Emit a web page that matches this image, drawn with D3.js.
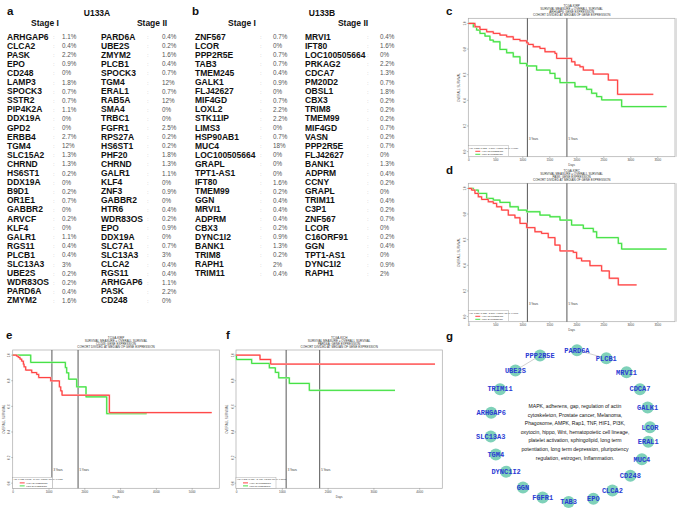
<!DOCTYPE html>
<html>
<head>
<meta charset="utf-8">
<script src="https://cdn.jsdelivr.net/npm/d3@7"></script>
<style>
  body { margin: 0; background: #fff; }
  text { font-family: "Liberation Sans", Arial, sans-serif; }
</style>
</head>
<body>
<div id="chart"></div>
<script>
// ---- panel a / b : gene tables ----
var aStage1Genes = ["ARHGAP6","CLCA2","PASK","EPO","CD248","LAMP3","SPOCK3","SSTR2","PIP4K2A","DDX19A",
  "GPD2","ERBB4","TGM4","SLC15A2","CHRND","HS6ST1","DDX19A","B9D1","OR1E1","GABBR2",
  "ARVCF","KLF4","GALR1","RGS11","PLCB1","SLC13A3","UBE2S","WDR83OS","PARD6A","ZMYM2"];
var aStage1Pct = [1.1,0.4,2.2,0.9,0,1.8,0.7,0.7,1.1,0, 0,2.7,12,1.3,1.3,0.2,0,0.2,0.7,0, 0.2,0,1.1,0.4,0.4,3,0.2,0.2,0.4,1.6];
var aStage2Genes = ["PARD6A","UBE2S","ZMYM2","PLCB1","SPOCK3","TGM4","ERAL1","RAB5A","SMA4","TRBC1",
  "FGFR1","RPS27A","HS6ST1","PHF20","CHRND","GALR1","KLF4","ZNF3","GABBR2","HTR6",
  "WDR83OS","EPO","DDX19A","SLC7A1","SLC13A3","CLCA2","RGS11","ARHGAP6","PASK","CD248"];
var aStage2Pct = [0.4,0.2,1.6,0.4,0.7,12,0.7,12,0,0, 2.5,0.2,0.2,1.8,1.3,1.1,0,0.9,0,0.4, 0.2,0.9,0,0.7,3,0.4,0.4,1.1,2.2,0];

var bStage1Genes = ["ZNF567","LCOR","PPP2R5E","TAB3","TMEM245","GALK1","FLJ42627","MIF4GD","LOXL2","STK11IP",
  "LIMS3","HSP90AB1","MUC4","LOC100505664","GRAPL","TPT1-AS1","IFT80","TMEM99","GGN","MRVI1",
  "ADPRM","CBX3","DYNC1I2","BANK1","TRIM8","RAPH1","TRIM11"];
var bStage1Pct = [0.7,0,0.7,0.7,0.4,0.9,0,0.7,2.2,2.2, 0,0.7,18,0,0,0,1.6,0.2,0.4,0.4, 0.4,0.2,0.9,1.3,0.2,2,0.4];
var bStage2Genes = ["MRVI1","IFT80","LOC100505664","PRKAG2","CDCA7","PM20D2","OBSL1","CBX3","TRIM8","TMEM99",
  "MIF4GD","VASN","PPP2R5E","FLJ42627","BANK1","ADPRM","CCNY","GRAPL","TRIM11","C3P1",
  "ZNF567","LCOR","C16ORF91","GGN","TPT1-AS1","DYNC1I2","RAPH1"];
var bStage2Pct = [0.4,1.6,0,2.2,1.3,0.7,1.8,0.2,0.2,0.2, 0.7,0.2,0.7,0,1.3,0.4,0.2,0,0.4,0.2, 0.7,0,0.2,0.4,0,0.9,2];

// ---- panels c-f : Kaplan-Meier curves, [days, survival] step knots (last = end of follow-up) ----
var cHigh = [[0,1],[123,0.974],[216,0.953],[340,0.935],[463,0.922],[586,0.909],[710,0.896],[833,0.875],
  [957,0.865],[1080,0.849],[1110,0.836],[1203,0.818],[1327,0.805],[1420,0.779],[1605,0.766],[1636,0.727],
  [1913,0.701],[1975,0.675],[2067,0.662],[2130,0.636],[2315,0.605],[2593,0.558],[2765,0.447],[3426,0.447]];
var cLow = [[0,1],[93,0.974],[154,0.948],[216,0.922],[309,0.901],[401,0.87],[463,0.857],[586,0.797],
  [710,0.771],[833,0.74],[957,0.688],[1080,0.668],[1265,0.636],[1512,0.61],[1605,0.571],[1698,0.538],
  [1975,0.506],[2191,0.486],[2284,0.455],[2377,0.429],[2470,0.403],[2840,0.351],[3673,0.351]];
var dHigh = [[0,1],[62,0.987],[123,0.961],[185,0.935],[247,0.914],[370,0.896],[463,0.883],[525,0.857],
  [617,0.831],[741,0.792],[864,0.771],[957,0.727],[1080,0.694],[1234,0.662],[1357,0.649],[1481,0.616],
  [1605,0.558],[1698,0.512],[1944,0.501],[2006,0.455],[2098,0.434],[2253,0.397],[2469,0.356],[2611,0.299],
  [2778,0.247],[3117,0.247]];
var dLow = [[0,1],[93,0.987],[185,0.961],[340,0.922],[463,0.909],[586,0.891],[772,0.857],[926,0.831],
  [1080,0.818],[1327,0.792],[1512,0.779],[1698,0.753],[1913,0.714],[2130,0.688],[2315,0.662],[2377,0.616],
  [2778,0.571],[2840,0.527],[3673,0.527]];
var eHigh = [[0,1],[112,0.992],[158,0.982],[205,0.969],[251,0.953],[298,0.93],[317,0.909],[363,0.883],
  [531,0.864],[670,0.849],[726,0.825],[1061,0.799],[1304,0.752],[1341,0.721],[1378,0.687],[2700,0.551],[5559,0.551]];
var eLow = [[0,1],[503,0.943],[1471,0.903],[1508,0.862],[1564,0.812],[1788,0.752],[2048,0.674],[2626,0.543],[3743,0.543]];
var fHigh = [[0,1],[524,0.966],[757,0.93],[4345,0.93]];
var fLow = [[0,1],[10,0.966],[342,0.935],[728,0.901],[859,0.865],[932,0.823],[1164,0.779],[1601,0.725],[3472,0.725]];

// ---- panel g : network ----
var gNodes = ["PARD6A","PLCB1","MRVI1","CDCA7","GALK1","LCOR","ERAL1","MUC4","CD248","CLCA2","EPO",
  "TAB3","FGFR1","GGN","DYNC1I2","TGM4","SLC13A3","ARHGAP6","TRIM11","UBE2S","PPP2R5E"];
var gNodeAngle = [5,27,45,61,76,91,102,116,131,148,163,181,200,216,233,248,262,280,299,317,338];
var gEdges = [["PPP2R5E","UBE2S"],["PARD6A","PLCB1"]];
var gPathways = ["MAPK, adherens, gap, regulation of actin",
  "cytoskeleton, Prostate cancer, Melanoma,",
  "Phagosome, AMPK, Rap1, TNF, HIF1, PI3K,",
  "oxytocin, hippo, Wnt, hematopoietic cell lineage,",
  "platelet activation, sphingolipid, long term",
  "potentiation, long term depression, pluripotency",
  "regulation, estrogen, Inflammation."];

var svg = d3.select("#chart").append("svg")
  .attr("width", 685).attr("height", 516);

// panel letters
[["a",7,15],["b",192,15],["c",446,15],["d",446,174],["e",6,339],["f",226,339],["g",446,340]]
  .forEach(function(p) {
    svg.append("text").attr("x", p[1]).attr("y", p[2]).text(p[0])
      .style("font-size", "11.5px").style("font-weight", "bold").style("fill", "#111");
  });

// ---------- tables ----------
var row = d3.scaleLinear().domain([0, 1]).range([39.5, 48.6]);

function drawColumn(genes, pct, gx, sx, px) {
  var g = svg.append("g");
  g.selectAll(".gene").data(genes).enter().append("text")
    .attr("x", gx).attr("y", function(d, i) { return row(i); })
    .text(function(d) { return d; })
    .style("font-size", "8.5px").style("font-weight", "bold").style("fill", "#111");
  g.selectAll(".sep").data(genes).enter().append("text")
    .attr("x", sx).attr("y", function(d, i) { return row(i) - 0.5; })
    .text(":")
    .style("font-size", "6px").style("fill", "#bbb");
  g.selectAll(".pct").data(pct).enter().append("text")
    .attr("x", px).attr("y", function(d, i) { return row(i) - 0.5; })
    .text(function(d) { return d + "%"; })
    .style("font-size", "6.3px").style("fill", "#555");
}

function header(txt, x, y) {
  svg.append("text").attr("x", x).attr("y", y).attr("text-anchor", "middle").text(txt)
    .style("font-size", "8.5px").style("font-weight", "bold").style("fill", "#111");
}

header("U133A", 97, 15.5); header("Stage I", 45, 25.5); header("Stage II", 152, 25.5);
drawColumn(aStage1Genes, aStage1Pct, 7, 53, 62);
drawColumn(aStage2Genes, aStage2Pct, 101, 147, 162);

header("U133B", 322, 15.5); header("Stage I", 242, 25.5); header("Stage II", 353, 25.5);
drawColumn(bStage1Genes, bStage1Pct, 195, 260, 273);
drawColumn(bStage2Genes, bStage2Pct, 305, 367, 380);

// ---------- KM plots ----------
function kmPanel(o) {
  var g = svg.append("g");
  var x = d3.scaleLinear().domain([0, o.dayRight]).range([o.left, o.right]);
  var y = d3.scaleLinear().domain([-0.04, 1.04]).range([o.bottom, o.top]);
  var cx = (o.left + o.right) / 2;

  // title
  var titles = [o.cohort, "SURVIVAL MEASURE = OVERALL SURVIVAL", o.gene + ": GENE EXPRESSION",
    "COHORT DIVIDED AT MEDIAN OF GENE EXPRESSION"];
  titles.forEach(function(t, i) {
    g.append("text").attr("x", cx).attr("y", o.top - 11.5 + i * 3.1)
      .attr("text-anchor", "middle").text(t)
      .style("font-size", "3px").style("fill", "#333");
  });

  // frame
  g.append("rect").attr("x", o.left).attr("y", o.top)
    .attr("width", o.right - o.left).attr("height", o.bottom - o.top)
    .style("fill", "none").style("stroke", "#aaa").style("stroke-width", 0.7);
  if (o.thickRight) {
    g.append("line").attr("x1", o.right + 1).attr("x2", o.right + 1)
      .attr("y1", o.top).attr("y2", o.bottom)
      .style("stroke", "#ddd").style("stroke-width", 2);
  }

  // axes
  var xa = g.append("g").attr("transform", "translate(0," + o.bottom + ")")
    .call(d3.axisBottom(x).tickValues(d3.range(0, o.dayRight, o.tickStep))
      .tickSize(1.5).tickPadding(1).tickFormat(d3.format("d")));
  xa.select(".domain").remove();
  xa.selectAll("line").style("stroke", "#666").style("stroke-width", 0.4);
  xa.selectAll("text").style("font-size", "3px").style("fill", "#444")
    .style("font-family", "'Liberation Sans', Arial, sans-serif");

  var yt = [0, 0.2, 0.4, 0.6, 0.8, 1.0];
  g.selectAll(".yt").data(yt).enter().append("line")
    .attr("x1", o.left - 1.5).attr("x2", o.left)
    .attr("y1", function(d) { return y(d); }).attr("y2", function(d) { return y(d); })
    .style("stroke", "#666").style("stroke-width", 0.4);
  g.selectAll(".yl").data(yt).enter().append("text")
    .attr("transform", function(d) { return "translate(" + (o.left - 2.5) + "," + y(d) + ") rotate(-90)"; })
    .attr("text-anchor", "middle").text(function(d) { return d3.format(".1f")(d); })
    .style("font-size", "3px").style("fill", "#444");

  g.append("text").attr("x", cx).attr("y", o.bottom + 9.5).attr("text-anchor", "middle")
    .text("Days").style("font-size", "3px").style("fill", "#444");
  g.append("text")
    .attr("transform", "translate(" + (o.left - 8) + "," + ((o.top + o.bottom) / 2) + ") rotate(-90)")
    .attr("text-anchor", "middle").text("OVERALL SURVIVAL")
    .style("font-size", "3px").style("fill", "#555");

  // 3 / 5 year markers
  [[1095, "3 Years"], [1826, "5 Years"]].forEach(function(m) {
    g.append("line").attr("x1", x(m[0])).attr("x2", x(m[0]))
      .attr("y1", o.top).attr("y2", o.bottom)
      .style("stroke", "#666").style("stroke-width", 1.1);
    g.append("text").attr("x", x(m[0]) + 1.5).attr("y", o.bottom - 17)
      .text(m[1]).style("font-size", "2.8px").style("fill", "#333");
  });

  // curves
  var line = d3.line().x(function(d) { return x(d[0]); }).y(function(d) { return y(d[1]); })
    .curve(d3.curveStepAfter);
  [[o.low, "#a8f5a8", "#33dd33"], [o.high, "#ffb0b0", "#ff3030"]].forEach(function(s) {
    g.append("path").attr("d", line(s[0]))
      .style("fill", "none").style("stroke", s[1]).style("stroke-width", 1.8);
    g.append("path").attr("d", line(s[0]))
      .style("fill", "none").style("stroke", s[2]).style("stroke-width", 0.9);
  });

  // legend
  var lx = o.left, ly = o.bottom - 11;
  g.append("rect").attr("x", lx).attr("y", ly).attr("width", 40).attr("height", 11)
    .style("fill", "#fff").style("stroke", "#999").style("stroke-width", 0.4);
  g.append("text").attr("x", lx + 1).attr("y", ly + 2.8).text(o.hr)
    .style("font-size", "2.3px").style("fill", "#333");
  [["HIGH EXPRESSION", "#ff3030", 5.6], ["LOW EXPRESSION", "#33dd33", 8.6]].forEach(function(l) {
    g.append("line").attr("x1", lx + 7).attr("x2", lx + 12)
      .attr("y1", ly + l[2]).attr("y2", ly + l[2])
      .style("stroke", l[1]).style("stroke-width", 0.9);
    g.append("text").attr("x", lx + 13.5).attr("y", ly + l[2] + 0.8).text(l[0])
      .style("font-size", "2.3px").style("fill", "#333");
  });
}

kmPanel({ left: 468.3, right: 675, top: 18.3, bottom: 156.7, dayRight: 3828, tickStep: 500,
  cohort: "TCGA-KIRP", gene: "ARHGAP6", high: cHigh, low: cLow, thickRight: true,
  hr: "HR: 0.552 (0.352 - 0.866), LOGRANK P: 0.0089" });
kmPanel({ left: 468.3, right: 675, top: 183.3, bottom: 321.7, dayRight: 3828, tickStep: 500,
  cohort: "TCGA-KIRC", gene: "PASK", high: dHigh, low: dLow, thickRight: true,
  hr: "HR: 1.827 (1.335 - 2.501), LOGRANK P: 0.0001" });
kmPanel({ left: 12.7, right: 219.3, top: 350, bottom: 488.3, dayRight: 5771, tickStep: 1000,
  cohort: "TCGA-KIRP", gene: "CD248", high: eHigh, low: eLow,
  hr: "HR: 1.123 (0.512 - 2.466), LOGRANK P: 0.7721" });
kmPanel({ left: 236, right: 442.3, top: 350, bottom: 488.3, dayRight: 4504, tickStep: 1000,
  cohort: "TCGA-KICH", gene: "PARD6A", high: fHigh, low: fLow,
  hr: "HR: 0.272 (0.031 - 2.403), LOGRANK P: 0.2108" });

// ---------- network ----------
var ringX = d3.scaleLinear().domain([-1, 1]).range([490, 650]);
var ringY = d3.scaleLinear().domain([-1, 1]).range([350, 502]);
var pos = {};
gNodes.forEach(function(n, i) {
  var a = gNodeAngle[i] * Math.PI / 180;
  pos[n] = [ringX(Math.sin(a)), ringY(-Math.cos(a))];
});
var net = svg.append("g");
net.selectAll(".edge").data(gEdges).enter().append("line")
  .attr("x1", function(d) { return pos[d[0]][0]; }).attr("y1", function(d) { return pos[d[0]][1]; })
  .attr("x2", function(d) { return pos[d[1]][0]; }).attr("y2", function(d) { return pos[d[1]][1]; })
  .style("stroke", "#bbb").style("stroke-width", 0.7);
net.selectAll(".node").data(gNodes).enter().append("circle")
  .attr("cx", function(d) { return pos[d][0]; }).attr("cy", function(d) { return pos[d][1]; })
  .attr("r", 6).style("fill", "#7fd1b9");
net.selectAll(".nlab").data(gNodes).enter().append("text")
  .attr("x", function(d) { return pos[d][0]; }).attr("y", function(d) { return pos[d][1] + 2.3; })
  .attr("text-anchor", "middle").text(function(d) { return d; })
  .style("font-family", "'Liberation Mono', 'Courier New', monospace")
  .style("font-weight", "bold").style("font-size", "7px").style("fill", "#2b3bd4");
net.selectAll(".pw").data(gPathways).enter().append("text")
  .attr("x", 575).attr("y", function(d, i) { return 408 + i * 8.6; })
  .attr("text-anchor", "middle").text(function(d) { return d; })
  .style("font-size", "5.1px").style("fill", "#111");
</script>
</body>
</html>
